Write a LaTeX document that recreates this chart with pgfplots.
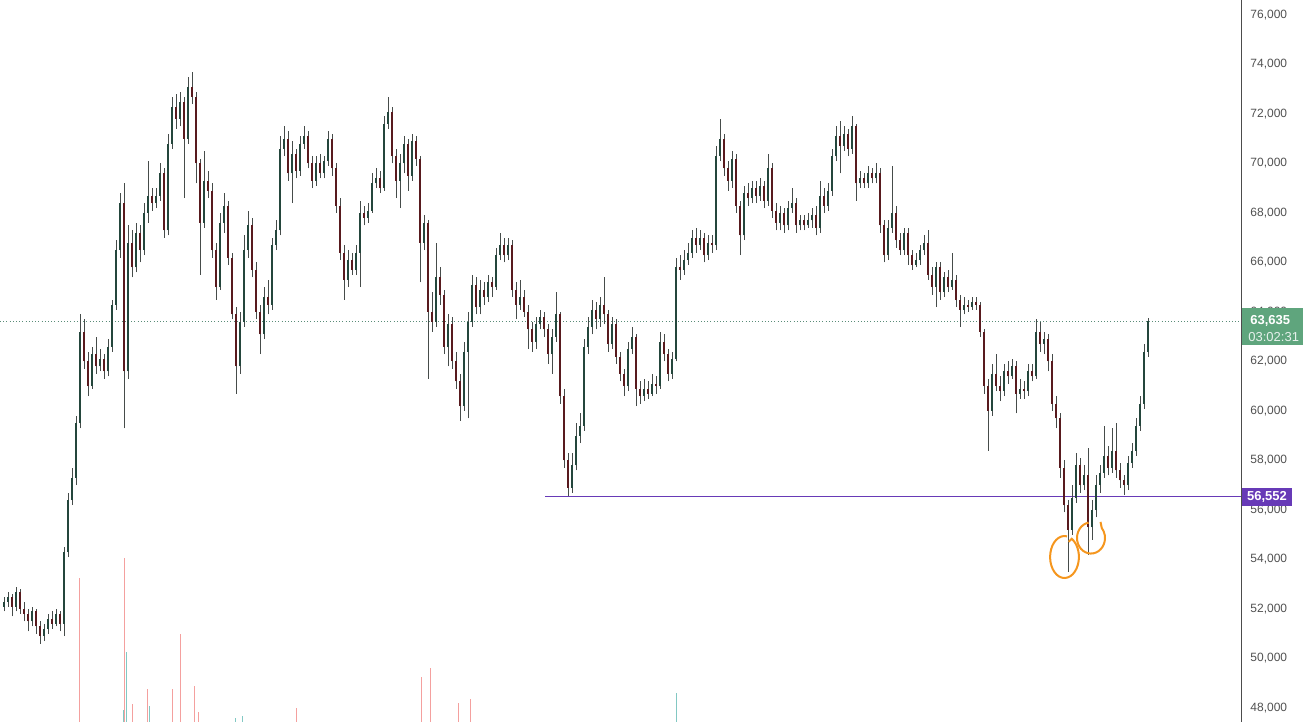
\documentclass[border=0pt]{standalone}
\usepackage{pgfplots}
\pgfplotsset{compat=1.18}
\usepackage{pgfplotstable}
\usepackage{fontspec}
\setmainfont{Liberation Sans}
\definecolor{upc}{RGB}{36,70,60}
\definecolor{dnc}{RGB}{88,26,30}
\definecolor{wick}{RGB}{70,76,74}
\definecolor{tick}{RGB}{80,80,80}
\definecolor{volr}{RGB}{244,160,158}
\definecolor{volg}{RGB}{130,200,195}
\definecolor{tvgreen}{RGB}{95,165,125}
\definecolor{tvpurple}{RGB}{103,58,183}
\definecolor{dotc}{RGB}{90,140,120}
\definecolor{orng}{RGB}{245,150,30}
\pgfplotstableread{
x o h l c
4 52100 52500 51900 52300
8 52300 52700 52100 52500
12 52500 52600 51700 52100
16 52100 52900 51900 52700
20 52700 52800 51800 52000
24 52000 52300 51500 51800
28 51800 52000 51100 51500
32 51500 52100 51300 51900
36 51900 52000 51000 51300
40 51300 51500 50600 50900
44 50900 51400 50700 51200
48 51200 51800 51000 51600
52 51600 51900 51200 51400
56 51400 52000 51300 51800
60 51800 51900 51100 51400
64 51400 54500 50900 54300
68 54300 56700 54100 56400
72 56400 57700 56200 57300
76 57300 59800 57000 59500
80 59500 63900 59300 63200
84 63200 63700 61700 62000
88 62000 62400 60600 61000
92 61000 62600 60900 62300
96 62300 63000 61500 61800
100 61800 62500 61600 62100
104 62100 62300 61300 61600
108 61600 62900 61400 62600
112 62600 64500 62400 64300
116 64300 66900 64100 66500
120 66500 68800 66200 68400
124 68400 69200 59300 61600
128 61600 67500 61300 66800
132 66800 67300 65400 65800
136 65800 67600 65600 67200
140 67200 67500 66000 66500
144 66500 68400 66300 68000
148 68000 70100 67600 68700
152 68700 69000 68100 68400
156 68400 69000 68200 68700
160 68700 70000 68500 69600
164 69600 69800 67000 67300
168 67300 71200 67100 70800
172 70800 72700 70600 72300
176 72300 72800 71400 71800
180 71800 72900 71500 72500
184 72500 72700 68600 71000
188 71000 73500 70800 73100
192 73100 73700 72400 72700
196 72700 72900 69200 70000
200 70000 70200 65500 67600
204 67600 70500 67400 69300
208 69300 69700 68600 68900
212 68900 69200 66200 66500
216 66500 66800 64500 65000
220 65000 68000 64900 67600
224 67600 68800 67200 68300
228 68300 68500 65900 66200
232 66200 66400 63700 63900
236 63900 64200 60700 61800
240 61800 64000 61500 63600
244 63600 67100 63400 66500
248 66500 68100 66200 67500
252 67500 67800 65400 65700
256 65700 66000 63700 64000
260 64000 64300 62300 63100
264 63100 65000 62900 64600
268 64600 65300 63900 64300
272 64300 67000 64100 66700
276 66700 67700 66500 67300
280 67300 71100 67100 70600
284 70600 71500 70300 71000
288 71000 71300 69300 69600
292 69600 70900 68400 70400
296 70400 70600 69400 69700
300 69700 71100 69500 70800
304 70800 71500 70600 71100
308 71100 71300 69800 70000
312 70000 70300 69000 69300
316 69300 70300 69100 70000
320 70000 70400 69400 69600
324 69600 70300 69400 70100
328 70100 71300 69900 71000
332 71000 71200 69500 69800
336 69800 70000 68000 68300
340 68300 68600 66100 66400
344 66400 66700 64500 65300
348 65300 66500 65000 66100
352 66100 66400 65500 65700
356 65700 66700 65500 66400
360 66400 68500 65000 68000
364 68000 68300 67500 67800
368 67800 68400 67600 68100
372 68100 69600 68000 69200
376 69200 69800 69000 69400
380 69400 69700 68800 69000
384 69000 71900 68900 71600
388 71600 72700 71400 72100
392 72100 72300 70000 70300
396 70300 70600 68600 69300
400 69300 70400 68200 70000
404 70000 71100 69600 70800
408 70800 71000 68900 69500
412 69500 71200 69300 70900
416 70900 71100 69900 70200
420 70200 70300 65200 66800
424 66800 67900 66500 67600
428 67600 67700 61300 64000
432 64000 64800 63200 63600
436 63600 66800 63400 65400
440 65400 65800 64300 64700
444 64700 64900 62300 62600
448 62600 63900 61800 63500
452 63500 63800 61700 62000
456 62000 62400 60900 61200
460 61200 61500 59600 60200
464 60200 62800 60000 62400
468 62400 64000 59700 63600
472 63600 65500 63400 65100
476 65100 65400 63900 64200
480 64200 65300 63900 64900
484 64900 65200 64300 64600
488 64600 65500 64400 65200
492 65200 65400 64600 65000
496 65000 66600 64900 66300
500 66300 67200 66100 66700
504 66700 67000 66000 66300
508 66300 67000 66100 66700
512 66700 66900 64600 64900
516 64900 65200 63700 64300
520 64300 65300 64100 64600
524 64600 64900 63800 64000
528 64000 64300 62500 63300
532 63300 63600 62400 62800
536 62800 63800 62500 63500
540 63500 64100 63300 63800
544 63800 64000 63000 63300
548 63300 63500 61900 62300
552 62300 63300 61500 63000
556 63000 64800 62800 63900
560 63900 64000 60300 60600
564 60600 60900 57700 58000
568 58000 58300 56550 56900
572 56900 58300 56700 57800
576 57800 59500 57600 59000
580 59000 59900 58700 59400
584 59400 62900 59200 62600
588 62600 63800 62300 63400
592 63400 64500 63100 64100
596 64100 64400 63300 63700
600 63700 64600 63400 64300
604 64300 65400 63500 63900
608 63900 64100 62400 62700
612 62700 63800 62500 63500
616 63500 63700 61900 62200
620 62200 62400 61200 61500
624 61500 61700 60600 61000
628 61000 62800 60800 62500
632 62500 63400 62300 63000
636 63000 63100 60200 60900
640 60900 61200 60300 60600
644 60600 61300 60400 60900
648 60900 61200 60500 60700
652 60700 61500 60600 61100
656 61100 61400 60700 61000
660 61000 63200 60900 62800
664 62800 63100 62000 62300
668 62300 62500 61200 61500
672 61500 62400 61300 62100
676 62100 66200 62000 65800
680 65800 66300 65300 65700
684 65700 66500 65500 66100
688 66100 66800 65900 66400
692 66400 67300 66200 67000
696 67000 67400 66400 66700
700 66700 67300 66500 67000
704 67000 67200 66000 66300
708 66300 67100 66100 66800
712 66800 67100 66400 66700
716 66700 70700 66500 70300
720 70300 71800 70100 71000
724 71000 71200 69500 69800
728 69800 70100 68900 69300
732 69300 70500 69000 70200
736 70200 70400 68000 68300
740 68300 68500 66300 67100
744 67100 69100 66900 68800
748 68800 69200 68300 68600
752 68600 69300 68400 69000
756 69000 69300 68400 68700
760 68700 69400 68500 69100
764 69100 69300 68200 68500
768 68500 70400 68300 69800
772 69800 70000 67800 68100
776 68100 68400 67300 67600
780 67600 68300 67300 68000
784 68000 68200 67200 67500
788 67500 68500 67300 68200
792 68200 69000 68000 68400
796 68400 68600 67200 67500
800 67500 67900 67300 67700
804 67700 67900 67300 67500
808 67500 68000 67400 67700
812 67700 68200 67400 67900
816 67900 68300 67100 67400
820 67400 69300 67200 68700
824 68700 69000 68000 68300
828 68300 69200 68100 68900
832 68900 70600 68700 70300
836 70300 71500 70100 71100
840 71100 71700 69600 70700
844 70700 71500 70500 71200
848 71200 71400 70300 70600
852 70600 71900 70400 71500
856 71500 71600 68500 69200
860 69200 69700 69000 69400
864 69400 69600 69000 69200
868 69200 69900 69000 69600
872 69600 69800 69200 69400
876 69400 70000 69200 69600
880 69600 69800 67200 67500
884 67500 67700 66000 66300
888 66300 67700 66100 67400
892 67400 69900 67200 68000
896 68000 68300 66600 66900
900 66900 67200 66300 66500
904 66500 67400 66300 67200
908 67200 67400 65900 66300
912 66300 66500 65700 65900
916 65900 66400 65800 66100
920 66100 66700 65900 66500
924 66500 67100 66300 66800
928 66800 67300 65300 65500
932 65500 65800 64700 65000
936 65000 66000 64200 65800
940 65800 66000 64500 64800
944 64800 65600 64600 65400
948 65400 65700 64800 65000
952 65000 66400 64900 65300
956 65300 65500 64200 64500
960 64500 64700 63400 64100
964 64100 64600 63900 64300
968 64300 64500 64000 64200
972 64200 64600 64100 64400
976 64400 64600 64100 64300
980 64300 64400 63000 63200
984 63200 63300 60700 61000
988 61000 61300 58400 60000
992 60000 61900 59800 61500
996 61500 62300 60800 61000
1000 61000 61400 60400 60800
1004 60800 61900 60600 61600
1008 61600 62000 61100 61400
1012 61400 62100 61300 61800
1016 61800 62000 59900 60700
1020 60700 61300 60500 60900
1024 60900 61200 60500 60800
1028 60800 61900 60600 61600
1032 61600 61900 61200 61400
1036 61400 63700 61300 63200
1040 63200 63600 62400 62700
1044 62700 63200 62300 62900
1048 62900 63100 61600 62000
1052 62000 62300 60000 60300
1056 60300 60600 59300 59700
1060 59700 59900 57300 57700
1064 57700 58000 55900 56200
1068 56200 56400 53500 55200
1072 55200 57000 55000 56500
1076 56500 58300 56300 57800
1080 57800 58100 56700 57000
1084 57000 57800 56800 57400
1088 57400 58500 54200 55300
1092 55300 56400 54800 56000
1096 56000 57400 55700 57000
1100 57000 57800 56700 57500
1104 57500 59400 57300 58200
1108 58200 58600 57400 57700
1112 57700 59300 57500 58400
1116 58400 59500 57300 57600
1120 57600 57900 56900 57200
1124 57200 57400 56600 57000
1128 57000 58200 56800 57900
1132 57900 58700 57700 58400
1136 58400 59700 58200 59400
1140 59400 60600 59200 60300
1144 60300 62700 60100 62400
1148 62400 63750 62200 63635
}\candles
\pgfplotstableread{
x v
79 53250
124 54060
132 48160
147 48770
172 48770
180 50990
194 48890
198 47840
296 48000
421 49250
430 49620
458 48200
470 48360
}\volred
\pgfplotstableread{
x v
123 47920
126 50260
149 48080
235 47600
242 47680
676 48600
}\volgreen
\begin{document}
\begin{tikzpicture}
\begin{axis}[
  at={(0,0)}, anchor=south west,
  scale only axis, width=620.5pt, height=361pt,
  xmin=0, xmax=1241, ymin=47434, ymax=76606,
  axis lines=none,
  clip=true,
  xtick=\empty, ytick=\empty,
  ]
  % volume
  \addplot[ycomb, mark=none, draw=volr, line width=0.5pt, forget plot] table[x=x,y=v] {\volred};
  \addplot[ycomb, mark=none, draw=volg, line width=0.5pt, forget plot] table[x=x,y=v] {\volgreen};
  % reference lines
  \addplot[draw=dotc, line width=0.5pt, dash pattern=on 0.5pt off 1.1pt, forget plot] coordinates {(0,63635) (1241,63635)};
  \addplot[draw=tvpurple, line width=0.6pt, forget plot] coordinates {(545,56552) (1241,56552)};
  % wicks
  \addplot[draw=none, mark=none, forget plot,
    error bars/.cd, y dir=plus, y explicit, error mark=none,
    error bar style={draw=wick, line width=0.45pt}]
    table[x=x, y=l, y error expr=\thisrow{h}-\thisrow{l}] {\candles};
  % up bodies
  \addplot[draw=none, mark=none, forget plot,
    restrict expr to domain={\thisrow{c}-\thisrow{o}}{0:100000},
    error bars/.cd, y dir=plus, y explicit, error mark=none,
    error bar style={draw=upc, line width=1.4pt}]
    table[x=x, y=o, y error expr=\thisrow{c}-\thisrow{o}] {\candles};
  % down bodies
  \addplot[draw=none, mark=none, forget plot,
    restrict expr to domain={\thisrow{o}-\thisrow{c}}{0.5:100000},
    error bars/.cd, y dir=plus, y explicit, error mark=none,
    error bar style={draw=dnc, line width=1.4pt}]
    table[x=x, y=c, y error expr=\thisrow{o}-\thisrow{c}] {\candles};
  \coordinate (axr) at (axis cs:1241,47434);
  \coordinate (axt) at (axis cs:1241,76606);
  \coordinate (g1) at (axis cs:1242,64160);
  \coordinate (g2) at (axis cs:1303,62667);
  \coordinate (gt1) at (axis cs:1250,63620);
  \coordinate (gt2) at (axis cs:1248,62990);
  \coordinate (p1) at (axis cs:1242,56889);
  \coordinate (p2) at (axis cs:1292,56162);
  \coordinate (pt) at (axis cs:1267,56540);
  \coordinate (o1) at (axis cs:1064.5,54100);
  \coordinate (o2) at (axis cs:1091,54870);
\end{axis}
% price scale
\draw[black!70, line width=0.5pt] (axr) -- (axt);
\foreach \v in {48,50,...,76}{
  \pgfmathsetmacro{\yy}{(\v-47.434)/29.172*361}
  \node[anchor=west, inner sep=0pt, text=tick, font=\fontsize{6}{7}\selectfont] at (625pt,\yy pt) {\v,000};
}
% last price box
\fill[tvgreen] (g1) rectangle (g2);
\node[anchor=west, text=white, font=\bfseries\fontsize{6.5}{7.5}\selectfont, inner sep=0pt] at (gt1) {63,635};
\node[anchor=west, text=white!85!tvgreen, font=\fontsize{6.5}{7.5}\selectfont, inner sep=0pt] at (gt2) {03:02:31};
% level box
\fill[tvpurple] (p1) rectangle (p2);
\node[text=white, font=\bfseries\fontsize{6.5}{7.5}\selectfont, inner sep=0pt] at (pt) {56,552};
% hand drawn circles
\draw[orng, line width=1pt] (o1) ++(80:7.2pt and 10.5pt) arc[start angle=80, end angle=420, x radius=7.2pt, y radius=10.5pt] -- ++(-1.5pt,-1.5pt);
\draw[orng, line width=1pt] (o2) ++(100:7pt and 7.8pt) arc[start angle=100, end angle=400, x radius=7pt, y radius=7.8pt] -- ++(-0.6pt,3pt);
\pgfresetboundingbox
\path (0,0) rectangle (651.5pt,361pt);
\end{tikzpicture}
\end{document}
